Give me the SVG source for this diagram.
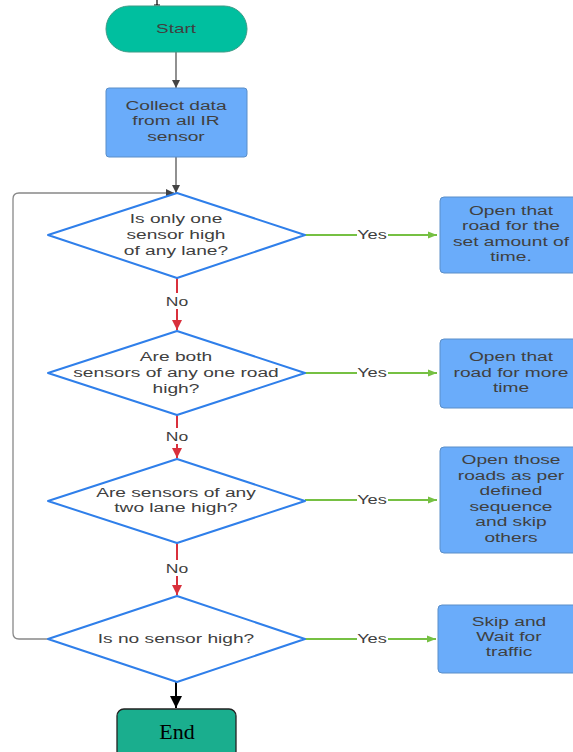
<svg xmlns="http://www.w3.org/2000/svg" width="573" height="752" viewBox="0 0 573 752">
<defs>
<style>
.t{font-family:"Liberation Sans",Arial,sans-serif;font-size:13.5px;fill:#404040;text-anchor:middle;dominant-baseline:central}
.box{fill:#6aacfa;stroke:#5a8ec8;stroke-width:1}
.dia{fill:#ffffff;stroke:#2f7fea;stroke-width:2;stroke-linejoin:round}
.gray{stroke:#555;stroke-width:1.3;fill:none}
.loop{stroke:#888;stroke-width:1.3;fill:none}
.green{stroke:#76c043;stroke-width:1.8;fill:none}
.red{stroke:#d9303c;stroke-width:2;fill:none}
.blk{stroke:#000;stroke-width:2;fill:none}
.lbl{fill:#ffffff}
</style>
<marker id="ag" viewBox="0 0 10 10" refX="10" refY="5" markerWidth="8" markerHeight="8" markerUnits="userSpaceOnUse" orient="auto"><path d="M0,0 L10,5 L0,10 z" fill="#444"/></marker>
<marker id="agr" viewBox="0 0 10 10" refX="10" refY="5" markerWidth="9" markerHeight="9" markerUnits="userSpaceOnUse" orient="auto"><path d="M0,1 L10,5 L0,9 z" fill="#76c043"/></marker>
<marker id="ar" viewBox="0 0 10 10" refX="10" refY="5" markerWidth="10" markerHeight="10" markerUnits="userSpaceOnUse" orient="auto"><path d="M0,0 L10,5 L0,10 z" fill="#d9303c"/></marker>
<marker id="ab" viewBox="0 0 10 10" refX="10" refY="5" markerWidth="12" markerHeight="12" markerUnits="userSpaceOnUse" orient="auto"><path d="M0,0 L10,5 L0,10 z" fill="#000"/></marker>
</defs>
<rect width="573" height="752" fill="#ffffff"/>
<path d="M157,0 V5 M154,5 H160" stroke="#000" stroke-width="1.2"/>

<g id="connectors">
<line class="gray" x1="176" y1="52" x2="176" y2="88" marker-end="url(#ag)"/>
<line class="gray" x1="176" y1="157" x2="176" y2="193" marker-end="url(#ag)"/>
<path class="loop" d="M48,639 H19 Q13,639 13,633 V199 Q13,193 19,193 H174" marker-end="url(#ag)"/>
<line class="green" x1="305" y1="235" x2="437" y2="235" marker-end="url(#agr)"/>
<line class="green" x1="305" y1="373" x2="437" y2="373" marker-end="url(#agr)"/>
<line class="green" x1="305" y1="500" x2="437" y2="500" marker-end="url(#agr)"/>
<line class="green" x1="305" y1="639" x2="436" y2="639" marker-end="url(#agr)"/>
<line class="red" x1="177" y1="278" x2="177" y2="330" marker-end="url(#ar)"/>
<line class="red" x1="177" y1="415" x2="177" y2="458" marker-end="url(#ar)"/>
<line class="red" x1="177" y1="543" x2="177" y2="595" marker-end="url(#ar)"/>
<line class="blk" x1="176" y1="682" x2="176" y2="708" marker-end="url(#ab)"/>
<rect class="lbl" x="357" y="226" width="31" height="16"/>
<text class="t" transform="translate(372,234) scale(1.35,1)">Yes</text>
<rect class="lbl" x="357" y="365" width="31" height="16"/>
<text class="t" transform="translate(372,372) scale(1.35,1)">Yes</text>
<rect class="lbl" x="357" y="492" width="31" height="16"/>
<text class="t" transform="translate(372,499) scale(1.35,1)">Yes</text>
<rect class="lbl" x="357" y="631" width="31" height="16"/>
<text class="t" transform="translate(372,638) scale(1.35,1)">Yes</text>
<rect class="lbl" x="164" y="293" width="26" height="16"/>
<text class="t" transform="translate(177,301) scale(1.3,1)">No</text>
<rect class="lbl" x="164" y="428" width="26" height="16"/>
<text class="t" transform="translate(177,436) scale(1.3,1)">No</text>
<rect class="lbl" x="164" y="560" width="26" height="16"/>
<text class="t" transform="translate(177,568) scale(1.3,1)">No</text>
</g>

<g id="start">
<rect x="106" y="6" width="141" height="46" rx="23" fill="#00bf9f" stroke="#3a9c86" stroke-width="1"/>
<text class="t" transform="translate(176,28) scale(1.4,1)">Start</text>
</g>

<g id="collect">
<rect class="box" x="106" y="88" width="141" height="69" rx="3"/>
<text class="t" transform="translate(176,106) scale(1.42,1)">Collect data</text>
<text class="t" transform="translate(176,121) scale(1.42,1)">from all IR</text>
<text class="t" transform="translate(176,137) scale(1.42,1)">sensor</text>
</g>

<g id="d1">
<polygon class="dia" points="177,193 305,235 177,278 48,235"/>
<text class="t" transform="translate(176,219) scale(1.42,1)">Is only one</text>
<text class="t" transform="translate(176,235) scale(1.42,1)">sensor high</text>
<text class="t" transform="translate(176,251) scale(1.42,1)">of any lane?</text>
</g>

<g id="d2">
<polygon class="dia" points="177,331 305,373 177,415 48,373"/>
<text class="t" transform="translate(176,357) scale(1.42,1)">Are both</text>
<text class="t" transform="translate(176,373) scale(1.42,1)">sensors of any one road</text>
<text class="t" transform="translate(176,389) scale(1.42,1)">high?</text>
</g>

<g id="d3">
<polygon class="dia" points="177,459 305,501 177,543 48,501"/>
<text class="t" transform="translate(176,493) scale(1.42,1)">Are sensors of any</text>
<text class="t" transform="translate(176,508) scale(1.42,1)">two lane high?</text>
</g>

<g id="d4">
<polygon class="dia" points="177,596 305,639 177,682 48,639"/>
<text class="t" transform="translate(176,639) scale(1.42,1)">Is no sensor high?</text>
</g>

<g id="b1">
<rect class="box" x="440" y="197" width="150" height="76" rx="4"/>
<text class="t" transform="translate(511,211) scale(1.42,1)">Open that</text>
<text class="t" transform="translate(511,226) scale(1.42,1)">road for the</text>
<text class="t" transform="translate(511,242) scale(1.42,1)">set amount of</text>
<text class="t" transform="translate(511,257) scale(1.42,1)">time.</text>
</g>

<g id="b2">
<rect class="box" x="440" y="339" width="150" height="69" rx="4"/>
<text class="t" transform="translate(511,357) scale(1.42,1)">Open that</text>
<text class="t" transform="translate(511,373) scale(1.42,1)">road for more</text>
<text class="t" transform="translate(511,388) scale(1.42,1)">time</text>
</g>

<g id="b3">
<rect class="box" x="440" y="447" width="150" height="106" rx="4"/>
<text class="t" transform="translate(511,460) scale(1.42,1)">Open those</text>
<text class="t" transform="translate(511,476) scale(1.42,1)">roads as per</text>
<text class="t" transform="translate(511,491) scale(1.42,1)">defined</text>
<text class="t" transform="translate(511,507) scale(1.42,1)">sequence</text>
<text class="t" transform="translate(511,522) scale(1.42,1)">and skip</text>
<text class="t" transform="translate(511,538) scale(1.42,1)">others</text>
</g>

<g id="b4">
<rect class="box" x="438" y="605" width="150" height="68" rx="4"/>
<text class="t" transform="translate(509,622) scale(1.42,1)">Skip and</text>
<text class="t" transform="translate(509,637) scale(1.42,1)">Wait for</text>
<text class="t" transform="translate(509,652) scale(1.42,1)">traffic</text>
</g>

<g id="end">
<rect x="117" y="709" width="119" height="52" rx="7" fill="#1aae8e" stroke="#222" stroke-width="1.3"/>
<text x="177" y="731" font-family="'Liberation Serif','Times New Roman',serif" font-size="22" fill="#000" text-anchor="middle" dominant-baseline="central">End</text>
</g>
</svg>
